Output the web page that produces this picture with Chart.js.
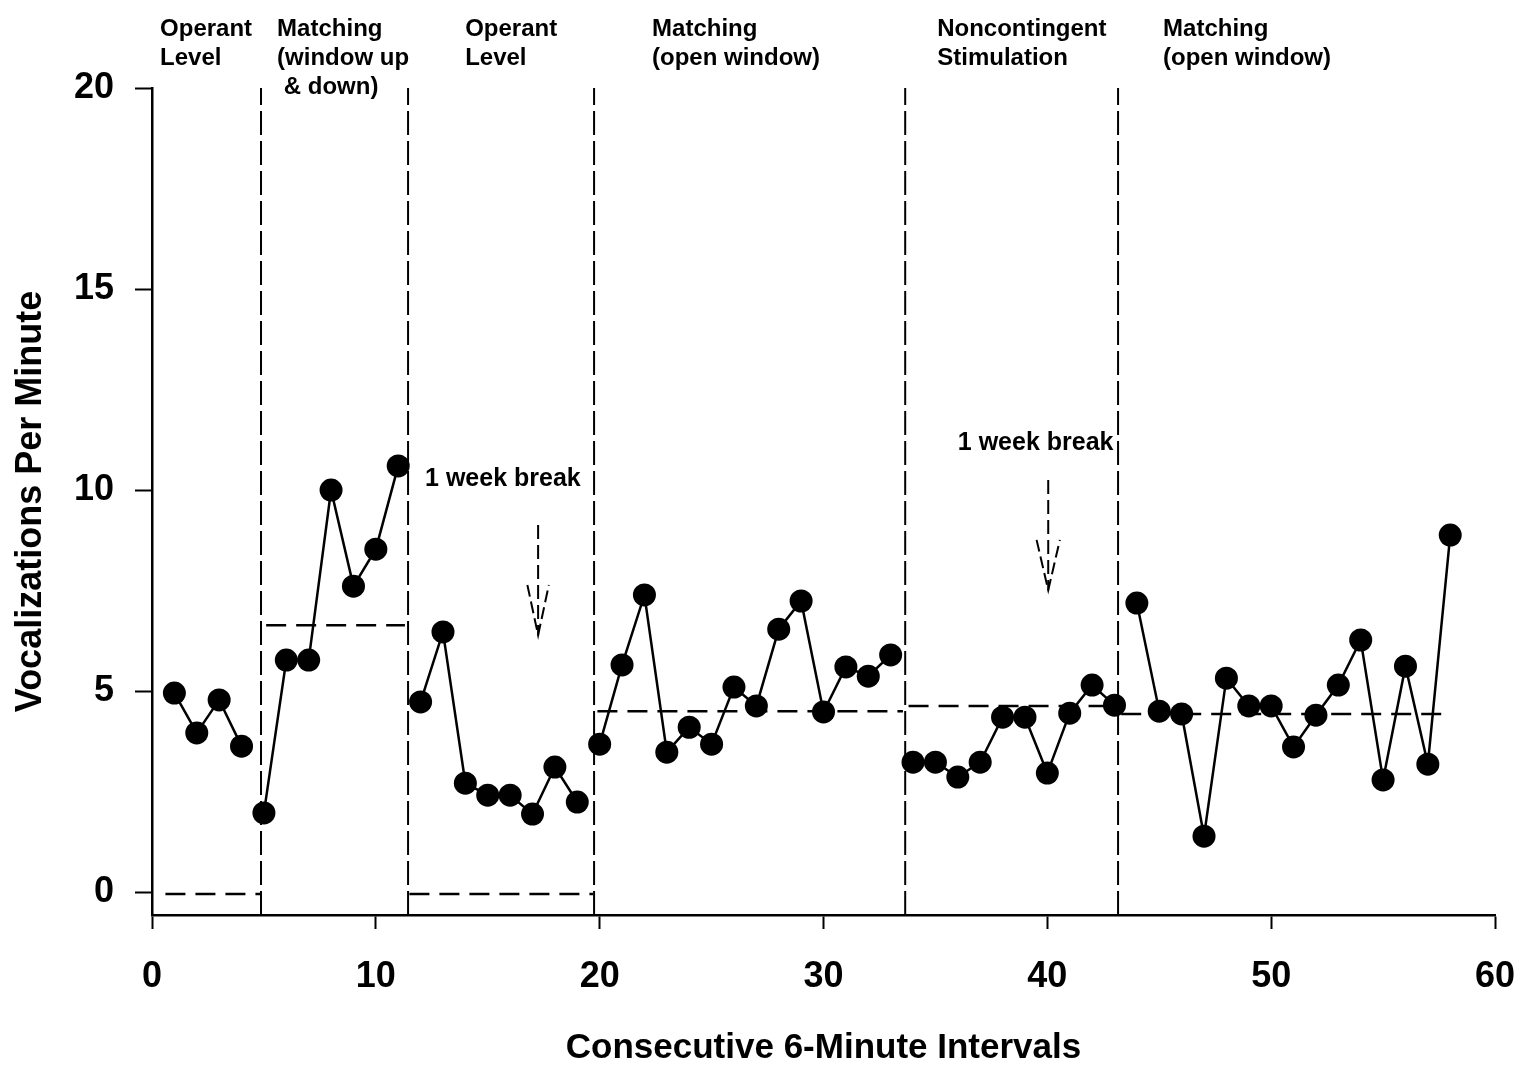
<!DOCTYPE html>
<html>
<head>
<meta charset="utf-8">
<script src="https://cdn.jsdelivr.net/npm/chart.js@4.4.1/dist/chart.umd.min.js"></script>
<style>
  html, body { margin: 0; padding: 0; background: #fff; }
  #wrap { width: 1521px; height: 1080px; }
</style>
</head>
<body>
<div id="wrap"><canvas id="vocalChart" width="1521" height="1080"></canvas></div>
<script>
// Data
const sessions = [1, 2, 3, 4, 5, 6, 7, 8, 9, 10, 11, 12, 13, 14, 15, 16, 17, 18, 19, 20,
    21, 22, 23, 24, 25, 26, 27, 28, 29, 30, 31, 32, 33, 34, 35, 36, 37, 38, 39, 40,
    41, 42, 43, 44, 45, 46, 47, 48, 49, 50, 51, 52, 53, 54, 55, 56, 57, 58];
const vocalRate = [4.95, 3.96, 4.78, 3.63, 1.97, 5.77, 5.77, 10.0, 7.61, 8.53,
    10.6, 4.73, 6.47, 2.71, 2.41, 2.41, 1.94, 3.11, 2.24, 3.68,
    5.65, 7.39, 3.48, 4.10, 3.68, 5.10, 4.63, 6.54, 7.24, 4.48,
    5.60, 5.37, 5.90, 3.23, 3.23, 2.86, 3.23, 4.35, 4.35, 2.96,
    4.45, 5.15, 4.65, 7.19, 4.50, 4.43, 1.39, 5.32, 4.63, 4.63,
    3.61, 4.40, 5.15, 6.27, 2.79, 5.62, 3.18, 8.88];

// last session of each phase
const phaseLastSession = [4, 11, 19, 33, 43, 58];
const phaseDividers = [4.87, 11.44, 19.75, 33.65, 43.16];
const phaseMeans = [-0.05, 6.64, -0.05, 4.5, 4.63, 4.43];
const meanStart = [0.6, 5.1, 11.5, 19.9, 33.8, 43.3];
const meanEnd = [4.85, 11.3, 19.7, 33.55, 43.0, 57.7];

const phaseLabels = [
    ['Operant', 'Level'],
    ['Matching', '(window up', ' & down)'],
    ['Operant', 'Level'],
    ['Matching', '(open window)'],
    ['Noncontingent', 'Stimulation'],
    ['Matching', '(open window)']
];
const phaseLabelX = [0.36, 5.59, 13.99, 22.34, 35.08, 45.17];

// "1 week break" notes and arrows
const breakLabelX = [12.2, 36.0];
const breakLabelY = [10.32, 11.22];
const arrowX = [17.25, 40.04];
const arrowTop = [9.13, 10.25];
const arrowTip = [6.39, 7.51];
const arrowHeadHalf = [0.48, 0.52];
const arrowHeadRise = [1.25, 1.25];

const xTicks = [0, 10, 20, 30, 40, 50, 60];
const yTicks = [0, 5, 10, 15, 20];

const FONT = "'Liberation Sans', Arial, Helvetica, sans-serif";

// Build datasets
const buildDatasets = () => {
    const sets = [];
    let first = 0;
    phaseLastSession.forEach((last, i) => {
        const pts = [];
        for (let k = first; k < last; k++) {
            pts.push({ x: sessions[k], y: vocalRate[k] });
        }
        first = last;
        sets.push({
            data: pts,
            borderColor: '#000',
            backgroundColor: '#000',
            borderWidth: 2.5,
            pointRadius: 11.5,
            pointHoverRadius: 11.5,
            pointBorderWidth: 0,
            tension: 0
        });
        // phase mean line
        sets.push({
            data: [{ x: meanStart[i], y: phaseMeans[i] }, { x: meanEnd[i], y: phaseMeans[i] }],
            borderColor: '#000',
            borderWidth: 2.5,
            borderDash: [20, 10],
            pointRadius: 0
        });
    });
    phaseDividers.forEach(x => {
        sets.push({
            data: [{ x: x, y: -0.57 }, { x: x, y: 20 }],
            borderColor: '#000',
            borderWidth: 2,
            borderDash: [24, 6],
            pointRadius: 0
        });
    });
    arrowX.forEach((x, i) => {
        const headY = arrowTip[i] + arrowHeadRise[i];
        sets.push({
            data: [{ x: x, y: arrowTop[i] }, { x: x, y: arrowTip[i] }],
            borderColor: '#000',
            borderWidth: 2,
            borderDash: [14, 6],
            pointRadius: 0
        });
        sets.push({
            data: [{ x: x - arrowHeadHalf[i], y: headY }, { x: x, y: arrowTip[i] },
                   { x: x + arrowHeadHalf[i], y: headY }],
            borderColor: '#000',
            borderWidth: 2,
            borderDash: [12, 5],
            pointRadius: 0
        });
    });
    return sets;
};

// Text annotations
const annotationPlugin = {
    id: 'annotations',
    afterDatasetsDraw(chart) {
        const { ctx, chartArea, scales: { x, y } } = chart;
        ctx.save();
        ctx.fillStyle = '#000';
        ctx.textAlign = 'left';
        ctx.textBaseline = 'alphabetic';
        ctx.font = `bold 24px ${FONT}`;
        phaseLabels.forEach((lines, i) => {
            const px = x.getPixelForValue(phaseLabelX[i]);
            lines.forEach((line, j) => {
                ctx.fillText(line, px, chartArea.top - 52 + j * 29);
            });
        });
        ctx.font = `bold 25px ${FONT}`;
        breakLabelX.forEach((bx, i) => {
            ctx.fillText('1 week break', x.getPixelForValue(bx), y.getPixelForValue(breakLabelY[i]) + 9);
        });
        ctx.restore();
    }
};

const initVocalChart = () => {
    const ctx = document.getElementById('vocalChart').getContext('2d');
    new Chart(ctx, {
        type: 'line',
        data: { datasets: buildDatasets() },
        plugins: [annotationPlugin],
        options: {
            responsive: false,
            animation: false,
            events: [],
            layout: { padding: { left: 0, top: 88, right: 26, bottom: 0 } },
            plugins: {
                legend: { display: false },
                tooltip: { enabled: false }
            },
            scales: {
                x: {
                    type: 'linear',
                    min: 0,
                    max: 60,
                    afterBuildTicks: scale => { scale.ticks = xTicks.map(v => ({ value: v })); },
                    afterFit: scale => {
                        scale.height = 165;
                        scale.paddingLeft = 0;
                        scale.paddingRight = 0;
                    },
                    ticks: {
                        color: '#000',
                        font: { family: FONT, size: 36, weight: 'bold' },
                        padding: 26,
                        maxRotation: 0
                    },
                    grid: {
                        drawOnChartArea: false,
                        drawTicks: true,
                        tickLength: 14,
                        tickColor: '#000',
                        tickWidth: 2
                    },
                    border: { color: '#000', width: 2.5 },
                    title: {
                        display: true,
                        text: 'Consecutive 6-Minute Intervals',
                        color: '#000',
                        font: { family: FONT, size: 35, weight: 'bold' },
                        padding: { top: 0, bottom: 11 }
                    }
                },
                y: {
                    type: 'linear',
                    min: -0.57,
                    max: 20,
                    afterBuildTicks: scale => { scale.ticks = yTicks.map(v => ({ value: v })); },
                    afterFit: scale => {
                        scale.width = 152;
                        scale.paddingTop = 0;
                        scale.paddingBottom = 0;
                    },
                    ticks: {
                        color: '#000',
                        font: { family: FONT, size: 36, weight: 'bold' },
                        padding: 21
                    },
                    grid: {
                        drawOnChartArea: false,
                        drawTicks: true,
                        tickLength: 17,
                        tickColor: '#000',
                        tickWidth: 2
                    },
                    border: { color: '#000', width: 2.5 },
                    title: {
                        display: true,
                        text: 'Vocalizations Per Minute',
                        color: '#000',
                        font: { family: FONT, size: 36, weight: 'bold' },
                        padding: { top: 9, bottom: 0 }
                    }
                }
            }
        }
    });
};

document.addEventListener('DOMContentLoaded', () => {
    initVocalChart();
});
</script>
</body>
</html>
